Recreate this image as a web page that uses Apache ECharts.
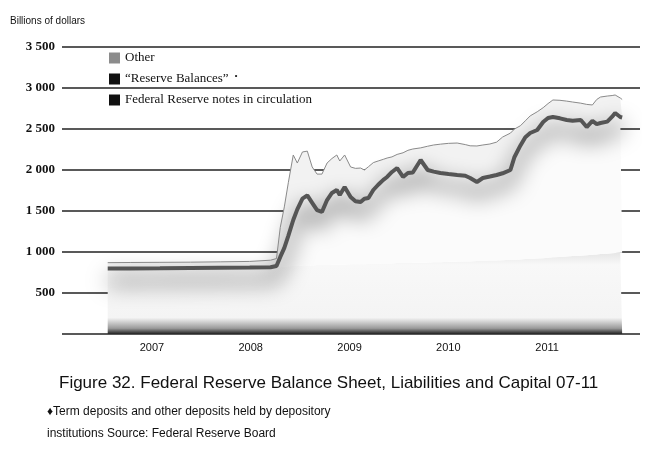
<!DOCTYPE html>
<html>
<head>
<meta charset="utf-8">
<script src="https://cdn.jsdelivr.net/npm/echarts@6/dist/echarts.min.js"></script>
<style>
  html, body { margin: 0; padding: 0; background: #fff; }
  #main { width: 671px; height: 450px; }
</style>
</head>
<body>
<div id="main"></div>
<script>
// sample dates
var dates = [
  '2007-01-19', '2007-04-12', '2007-07-31', '2007-11-21', '2008-03-10', '2008-06-27', '2008-09-12', '2008-10-04', '2008-10-18', '2008-11-02',
  '2008-11-17', '2008-12-05', '2008-12-20', '2009-01-08', '2009-01-26', '2009-02-13', '2009-03-03', '2009-03-21', '2009-04-09', '2009-04-27',
  '2009-05-15', '2009-05-26', '2009-06-13', '2009-07-05', '2009-07-23', '2009-08-11', '2009-08-25', '2009-09-09', '2009-09-27', '2009-10-15',
  '2009-11-03', '2009-11-17', '2009-12-05', '2009-12-24', '2010-01-15', '2010-02-02', '2010-02-20', '2010-03-21', '2010-04-16', '2010-05-08',
  '2010-06-02', '2010-07-02', '2010-08-03', '2010-09-02', '2010-09-20', '2010-10-15', '2010-11-06', '2010-12-02', '2010-12-27', '2011-01-18',
  '2011-02-16', '2011-03-03', '2011-03-25', '2011-04-12', '2011-04-30', '2011-05-26', '2011-06-17', '2011-07-05', '2011-07-23', '2011-08-18',
  '2011-09-12', '2011-10-04', '2011-11-03', '2011-11-25', '2011-12-16', '2012-01-01', '2012-01-15', '2012-02-09', '2012-02-27', '2012-03-09',
  '2012-03-28', '2012-04-04'
];
// billions of dollars
var notes = [
  780, 782, 785, 790, 795, 800, 805, 810, 815, 820,
  825, 830, 830, 835, 835, 835, 840, 840, 840, 845,
  845, 845, 845, 850, 850, 850, 850, 855, 855, 855,
  860, 860, 860, 865, 865, 865, 870, 870, 870, 875,
  875, 880, 880, 885, 885, 890, 890, 895, 895, 900,
  905, 905, 910, 915, 915, 920, 925, 930, 935, 940,
  945, 950, 955, 960, 965, 970, 975, 980, 985, 988,
  990, 990
];
var reserves = [
  20, 18, 17, 15, 13, 10, 10, 20, 125, 230,
  375, 560, 690, 815, 855, 765, 670, 648, 794, 875,
  911, 850, 948, 820, 770, 760, 800, 804, 901, 965,
  1020, 1055, 1116, 1159, 1050, 1098, 1100, 1252, 1130, 1105,
  1088, 1070, 1059, 1045, 1017, 964, 1012, 1025, 1044, 1060,
  1095, 1254, 1390, 1485, 1536, 1568, 1660, 1704, 1711, 1690,
  1665, 1650, 1655, 1564, 1635, 1590, 1598, 1610, 1665, 1707,
  1656, 1650
];
var other = [
  70, 72, 72, 71, 72, 75, 85, 90, 360, 500,
  650, 793, 565, 570, 540, 437, 440, 462, 451, 420,
  427, 415, 390, 367, 400, 414, 350, 381, 334, 290,
  250, 231, 184, 166, 295, 277, 286, 148, 290, 325,
  352, 375, 390, 380, 393, 439, 403, 397, 401, 442,
  450, 341, 240, 200, 209, 222, 175, 176, 208, 220,
  230, 229, 205, 276, 193, 300, 317, 312, 258, 220,
  232, 220
];
// year labels sit in the middle of each year
var yearLabels = [2007.5, 2008.5, 2009.5, 2010.5, 2011.5];

var seriesNames = ['Other', '\u201CReserve Balances\u201D', 'Federal Reserve notes in circulation'];

function pairs(vals) {
  return vals.map(function (v, i) { return [dates[i], v]; });
}

var chart = echarts.init(document.getElementById('main'));
var option = {
  backgroundColor: '#fff',
  animation: false,
  title: [
    {
      text: 'Billions of dollars',
      left: 5, top: 11,
      textStyle: { fontFamily: 'Liberation Sans', fontSize: 10, fontWeight: 'normal', color: '#111' }
    },
    {
      text: 'Figure 32. Federal Reserve Balance Sheet, Liabilities and Capital 07-11',
      left: 54, top: 370,
      textStyle: { fontFamily: 'Liberation Sans', fontSize: 17, fontWeight: 'normal', color: '#111' }
    },
    {
      text: '\u2666Term deposits and other deposits held by depository\ninstitutions Source: Federal Reserve Board',
      left: 42, top: 396,
      textStyle: { fontFamily: 'Liberation Sans', fontSize: 12, fontWeight: 'normal', color: '#111', lineHeight: 22 }
    }
  ],
  legend: {
    orient: 'vertical',
    left: 104, top: 46,
    icon: 'rect',
    itemWidth: 11, itemHeight: 11, itemGap: 7,
    textStyle: {
      fontFamily: 'Liberation Serif', fontSize: 13, color: '#111', lineHeight: 14,
      rich: { s: { fontSize: 9, lineHeight: 14, verticalAlign: 'top', padding: [0, 0, 0, 6], color: '#111' } }
    },
    formatter: function (name) {
      return name === seriesNames[1] ? name + '{s|\u2022}' : name;
    },
    data: [
      { name: seriesNames[0], itemStyle: { color: '#8c8c8c' } },
      { name: seriesNames[1], itemStyle: { color: '#111' } },
      { name: seriesNames[2], itemStyle: { color: '#111' } }
    ]
  },
  grid: { left: 62, right: 31, top: 47, bottom: 116 },
  xAxis: [
    {
      type: 'time',
      min: '2006-08-03', max: '2012-06-09',
      axisLine: { show: false },
      axisTick: { show: false },
      splitLine: { show: false },
      axisLabel: { show: false }
    },
    {
      // label-only axis in decimal years, same span as the time axis
      type: 'value', position: 'bottom',
      min: 2006.59, max: 2012.44,
      axisLine: { show: false },
      axisTick: { show: false },
      splitLine: { show: false },
      axisLabel: {
        customValues: yearLabels,
        formatter: function (v) { return String(Math.floor(v)); },
        fontFamily: 'Liberation Sans', fontSize: 11, color: '#111', margin: 8
      }
    }
  ],
  yAxis: {
    type: 'value',
    min: 0, max: 3500, interval: 500,
    axisLine: { show: false },
    axisTick: { show: false },
    splitLine: { lineStyle: { color: '#222', width: 1.6 } },
    axisLabel: {
      fontFamily: 'Liberation Serif', fontSize: 13, fontWeight: 'bold', color: '#111', margin: 7,
      formatter: function (v) {
        if (v === 0) return '';
        var s = String(v);
        return s.length > 3 ? s.slice(0, s.length - 3) + ' ' + s.slice(-3) : s;
      }
    }
  },
  series: [
    {
      name: seriesNames[2],
      type: 'line', stack: 'total', showSymbol: false,
      lineStyle: { width: 0 },
      itemStyle: { color: '#111' },
      areaStyle: {
        opacity: 1,
        color: new echarts.graphic.LinearGradient(0, 0, 0, 1, [
          { offset: 0, color: '#e6e6e6' },
          { offset: 0.15, color: '#f8f8f8' },
          { offset: 0.8, color: '#f4f4f4' },
          { offset: 0.93, color: '#9a9a9a' },
          { offset: 1, color: '#222' }
        ])
      },
      data: pairs(notes)
    },
    {
      name: seriesNames[1],
      type: 'line', stack: 'total', showSymbol: false,
      itemStyle: { color: '#111' },
      lineStyle: {
        color: '#555', width: 4,
        shadowColor: '#000', shadowBlur: 22, shadowOffsetY: 12
      },
      areaStyle: { opacity: 1, color: '#fbfbfb' },
      data: pairs(reserves)
    },
    {
      name: seriesNames[0],
      type: 'line', stack: 'total', showSymbol: false,
      itemStyle: { color: '#8c8c8c' },
      lineStyle: { color: '#8a8a8a', width: 1 },
      areaStyle: { opacity: 1, color: '#f2f2f2' },
      data: pairs(other)
    }
  ]
};
chart.setOption(option);
</script>
</body>
</html>
